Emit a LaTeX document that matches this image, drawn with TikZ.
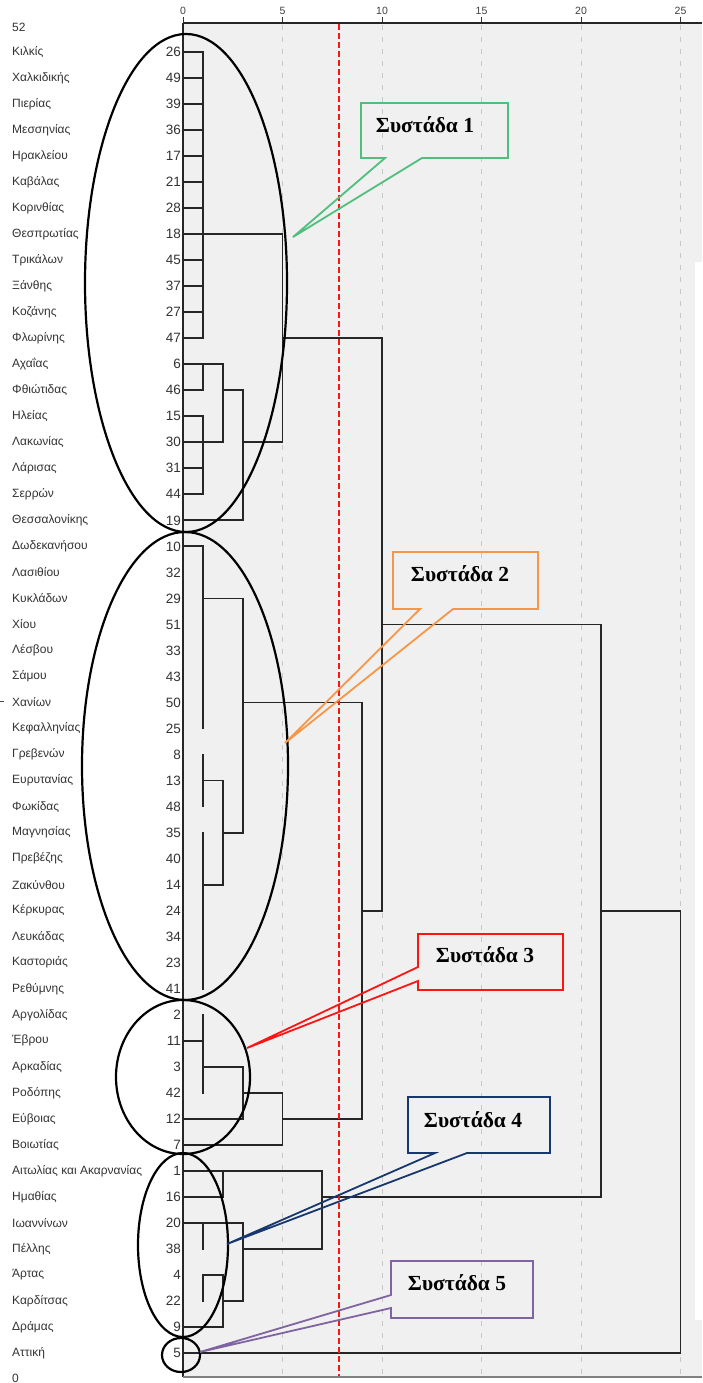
\documentclass[tikz,border=0pt]{standalone}
\usepackage{fontspec}
\setmainfont{Liberation Sans}
\newfontfamily\calloutfont{Liberation Serif}

\definecolor{plotbg}{RGB}{240,240,240}
\definecolor{gridgray}{RGB}{200,200,200}
\definecolor{cgreen}{RGB}{80,190,125}
\definecolor{corange}{RGB}{247,150,70}
\definecolor{cred}{RGB}{255,20,20}
\definecolor{cnavy}{RGB}{23,55,110}
\definecolor{cpurple}{RGB}{128,100,162}

\tikzset{
  branch/.style={line width=1.8pt, black!85, line cap=rect},
  leafname/.style={anchor=west, inner sep=0pt, text=black!80, font=\fontsize{12}{14}\selectfont},
  leafid/.style={anchor=east, inner sep=0pt, text=black!80, font=\fontsize{13.5}{15}\selectfont},
  ticklabel/.style={anchor=south, inner sep=0pt, text=black!75, font=\fontsize{10.5}{12}\selectfont},
  group/.style={line width=2.2pt, black},
  callout/.style={line width=1.8pt, line join=miter},
  callouttext/.style={inner sep=0pt, font=\calloutfont\bfseries\fontsize{21.5}{25}\selectfont}
}

\begin{document}
\begin{tikzpicture}[x=1pt, y=-1pt]

    % Frame and plot area
    \useasboundingbox (0,0) rectangle (702,1383);
    \fill[white] (0,0) rectangle (702,1383);
    \fill[plotbg] (183,23) rectangle (702,1377);
    \fill[white] (695,262) rectangle (702,1320);

    % Grid and axis
    \foreach \t in {5,10,...,25}
        \draw[gridgray, line width=1pt, dash pattern=on 5pt off 7pt] ({183+19.9*\t},25) -- ({183+19.9*\t},1375);
    \foreach \t in {0,5,...,25} {
        \node (tick\t) [ticklabel] at ({183+19.9*\t},15) {\t};
        \draw[black!80, line width=0.8pt] ({183+19.9*\t},17) -- ({183+19.9*\t},23);
    }
    \draw[black!85, line width=1.6pt] (183,23) -- (702,23);
    \draw[black!85, line width=1.4pt] (183,23) -- (183,1377);
    \draw[black!50, line width=1.4pt] (183,1377) -- (702,1377);
    \node (top) [leafname] at (12,27) {52};
    \node (bottom) [leafname] at (12,1378) {0};
    \draw[black!70, line width=0.8pt] (0,701) -- (4,701);

    % Leaves
    \foreach \nm/\id [count=\i] in {Κιλκίς/26, Χαλκιδικής/49, Πιερίας/39, Μεσσηνίας/36,
        Ηρακλείου/17, Καβάλας/21, Κορινθίας/28, Θεσπρωτίας/18, Τρικάλων/45, Ξάνθης/37,
        Κοζάνης/27, Φλωρίνης/47, Αχαΐας/6, Φθιώτιδας/46, Ηλείας/15, Λακωνίας/30,
        Λάρισας/31, Σερρών/44, Θεσσαλονίκης/19, Δωδεκανήσου/10, Λασιθίου/32, Κυκλάδων/29,
        Χίου/51, Λέσβου/33, Σάμου/43, Χανίων/50, Κεφαλληνίας/25, Γρεβενών/8, Ευρυτανίας/13,
        Φωκίδας/48, Μαγνησίας/35, Πρεβέζης/40, Ζακύνθου/14, Κέρκυρας/24, Λευκάδας/34,
        Καστοριάς/23, Ρεθύμνης/41, Αργολίδας/2, Έβρου/11, Αρκαδίας/3, Ροδόπης/42,
        Εύβοιας/12, Βοιωτίας/7, Αιτωλίας και Ακαρνανίας/1, Ημαθίας/16, Ιωαννίνων/20,
        Πέλλης/38, Άρτας/4, Καρδίτσας/22, Δράμας/9, Αττική/5} {
        \node (name\i) [leafname] at (12,{52+26.02*(\i-1)}) {\nm};
        \node (id\i) [leafid] at (181,{52+26.02*(\i-1)}) {\id};
        \coordinate (leaf\i) at (183,{52+26.02*(\i-1)});
    }

    % Dendrogram: leaf stubs
    \foreach \r in {1,...,18,20,...,41,46,...,49}
        \draw[branch] (leaf\r) -- ([xshift=19.9pt]leaf\r);
    % Dendrogram: horizontal links (row/from/to)
    \foreach \r/\a/\b in {8/1/5, 13/1/2, 16/1/2, 14/2/3, 16/3/5, 12/5/10, 19/0/3,
        22/1/3, 29/1/2, 33/1/2, 31/2/3, 26/3/9,
        40/1/3, 42/0/3, 41/3/5, 43/0/5, 42/5/9, 34/9/10, 23/10/21,
        44/0/2, 45/0/2, 44/2/7, 46/1/3, 48/1/2, 50/0/2, 49/2/3, 47/3/7, 45/7/21,
        34/21/25, 51/0/25}
        \draw[branch] ([xshift=\a*19.9pt]leaf\r) -- ([xshift=\b*19.9pt]leaf\r);
    % Dendrogram: vertical joins (height/first/last)
    \foreach \h/\a/\b in {1/1/12, 1/13/14, 1/15/18, 2/13/16, 3/14/19, 5/8/16,
        1/20/27, 1/28/30, 1/31/37, 2/29/33, 3/22/31,
        1/38/41, 3/40/42, 5/41/43, 9/26/42, 10/12/34,
        2/44/45, 1/46/47, 1/48/49, 2/48/50, 3/46/49, 7/44/47, 21/23/45, 25/34/51}
        \draw[branch] ([xshift=\h*19.9pt]leaf\a) -- ([xshift=\h*19.9pt]leaf\b);

    % Cut line
    \draw[cred, line width=1.3pt, dash pattern=on 6pt off 3pt] (339,24) -- (339,1376);

    % Cluster outlines
    \draw[group] (186,283) ellipse [x radius=101, y radius=249];
    \draw[group] (185,766) ellipse [x radius=103, y radius=234];
    \draw[group] (183,1077) ellipse [x radius=67, y radius=77];
    \draw[group] (183,1245) ellipse [x radius=45, y radius=92];
    \draw[group] (181,1355) ellipse [x radius=19, y radius=17];

    % Callouts
    \draw[callout, cgreen] (361,103) -- (508,103) -- (508,158) -- (422,158) -- (293,237) -- (385,158) -- (361,158) -- cycle;
    \node (label1) [callouttext] at (425,125) {Συστάδα 1};
    \draw[callout, corange] (393,552) -- (538,552) -- (538,609) -- (453,609) -- (285,743) -- (420,609) -- (393,609) -- cycle;
    \node (label2) [callouttext] at (460,574) {Συστάδα 2};
    \draw[callout, cred] (418,934) -- (563,934) -- (563,990) -- (418,990) -- (418,981) -- (247,1048) -- (418,967) -- cycle;
    \node (label3) [callouttext] at (485,955) {Συστάδα 3};
    \draw[callout, cnavy] (408,1097) -- (550,1097) -- (550,1153) -- (467,1153) -- (227,1244) -- (435,1153) -- (408,1153) -- cycle;
    \node (label4) [callouttext] at (473,1120) {Συστάδα 4};
    \draw[callout, cpurple] (391,1261) -- (533,1261) -- (533,1318) -- (391,1318) -- (391,1308) -- (200,1352) -- (391,1295) -- cycle;
    \node (label5) [callouttext] at (457,1283) {Συστάδα 5};
\end{tikzpicture}
\end{document}
